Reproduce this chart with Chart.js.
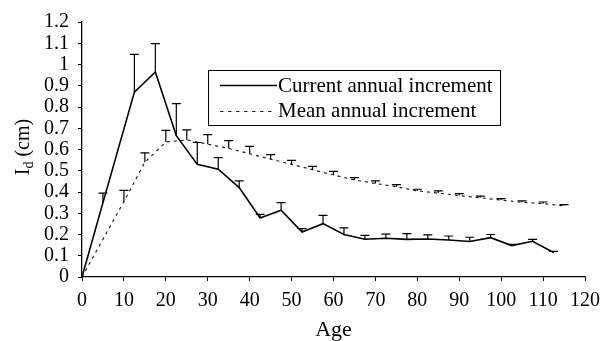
<!DOCTYPE html>
<html>
<head>
<meta charset="utf-8">
<script src="https://cdn.jsdelivr.net/npm/chart.js@4/dist/chart.umd.min.js"></script>
<style>
  html, body { margin: 0; padding: 0; background: #fff; }
  #wrap { width: 608px; height: 341px; position: relative; }
</style>
</head>
<body>
<div id="wrap"><canvas id="c" width="608" height="341"></canvas></div>
<script>
// Diameter increment by age
const currentAges   = [0, 5, 12.5, 17.5, 22.5, 27.5, 32.5, 37.5, 42.5, 47.5, 52.5, 57.5, 62.5, 67.5, 72.5, 77.5, 82.5, 87.5, 92.5, 97.5, 102.5, 107.5, 112.5];
const currentValues = [0, 0.35, 0.87, 0.965, 0.665, 0.53, 0.507, 0.421, 0.278, 0.314, 0.212, 0.251, 0.2, 0.178, 0.182, 0.177, 0.179, 0.174, 0.167, 0.185, 0.148, 0.168, 0.115];
const currentErrors = [0, 0.045, 0.178, 0.133, 0.151, 0.103, 0.055, 0.031, 0.017, 0.036, 0.016, 0.039, 0.031, 0.018, 0.020, 0.027, 0.019, 0.019, 0.020, 0.015, 0.006, 0.009, 0.006];

const meanAges   = [0, 10, 15, 20, 25, 30, 35, 40, 45, 50, 55, 60, 65, 70, 75, 80, 85, 90, 95, 100, 105, 110, 115];
const meanValues = [0, 0.355, 0.54, 0.635, 0.645, 0.625, 0.605, 0.58, 0.555, 0.53, 0.505, 0.48, 0.457, 0.44, 0.425, 0.405, 0.395, 0.383, 0.373, 0.362, 0.352, 0.345, 0.335];
const meanErrors = [0, 0.053, 0.044, 0.055, 0.047, 0.045, 0.037, 0.035, 0.021, 0.019, 0.016, 0.017, 0.011, 0.012, 0.010, 0.008, 0.010, 0.009, 0.008, 0.007, 0.006, 0.008, 0.006];

const seriesLabels = ['Current annual increment', 'Mean annual increment'];
const xTitle = 'Age';
const yTitleMain = 'I';
const yTitleSub = 'd';
const yTitleUnit = ' (cm)';

const FONT = '"Liberation Serif", "Times New Roman", serif';

function points(xs, ys) { return xs.map((x, i) => ({ x: x, y: ys[i] })); }

// upper error bars (stem + cap) for each series
const errorBars = {
  id: 'errorBars',
  afterDatasetsDraw(chart) {
    const ctx = chart.ctx;
    const xs = chart.scales.x, ys = chart.scales.y;
    const sets = [[currentAges, currentValues, currentErrors], [meanAges, meanValues, meanErrors]];
    ctx.save();
    ctx.strokeStyle = '#000';
    ctx.lineWidth = 1.2;
    ctx.setLineDash([]);
    sets.forEach(([ages, vals, errs]) => {
      ages.forEach((a, i) => {
        if (!errs[i]) return;
        const px = xs.getPixelForValue(a);
        const y0 = ys.getPixelForValue(vals[i]);
        const y1 = ys.getPixelForValue(vals[i] + errs[i]);
        ctx.beginPath();
        ctx.moveTo(px, y0);
        ctx.lineTo(px, y1);
        ctx.moveTo(px - 4.5, y1);
        ctx.lineTo(px + 4.5, y1);
        ctx.stroke();
      });
    });
    ctx.restore();
  }
};

// boxed legend inside the plot and the rotated y-axis title with subscript
const decorations = {
  id: 'decorations',
  afterDraw(chart) {
    const ctx = chart.ctx;
    const ds = chart.data.datasets;
    ctx.save();
    // legend box
    ctx.strokeStyle = '#000';
    ctx.lineWidth = 1;
    ctx.strokeRect(208.5, 70.5, 292, 55);
    ctx.font = '21px ' + FONT;
    ctx.fillStyle = '#000';
    ctx.textBaseline = 'alphabetic';
    ctx.textAlign = 'left';
    // row 1
    ctx.lineWidth = 1.6;
    ctx.beginPath();
    ctx.moveTo(220, 85.5);
    ctx.lineTo(277, 85.5);
    ctx.stroke();
    ctx.fillText(ds[0].label, 278, 92);
    // row 2
    ctx.lineWidth = 1.2;
    ctx.strokeStyle = '#222';
    ctx.setLineDash([3.5, 4.5]);
    ctx.beginPath();
    ctx.moveTo(220, 111.5);
    ctx.lineTo(272, 111.5);
    ctx.stroke();
    ctx.setLineDash([]);
    ctx.fillText(ds[1].label, 278, 117);

    // y-axis title
    ctx.translate(29, 147);
    ctx.rotate(-Math.PI / 2);
    ctx.font = '20px ' + FONT;
    const wI = ctx.measureText(yTitleMain).width;
    ctx.font = '14px ' + FONT;
    const wd = ctx.measureText(yTitleSub).width;
    ctx.font = '20px ' + FONT;
    const wU = ctx.measureText(yTitleUnit).width;
    let x = -(wI + wd + wU) / 2;
    ctx.fillText(yTitleMain, x, 0);
    x += wI;
    ctx.font = '14px ' + FONT;
    ctx.fillText(yTitleSub, x, 4);
    x += wd;
    ctx.font = '20px ' + FONT;
    ctx.fillText(yTitleUnit, x, 0);
    ctx.restore();
  }
};

new Chart(document.getElementById('c'), {
  type: 'line',
  data: {
    datasets: [
      {
        label: seriesLabels[0],
        data: points(currentAges, currentValues),
        borderColor: '#000',
        borderWidth: 1.6,
        pointRadius: 0,
        tension: 0,
        fill: false
      },
      {
        label: seriesLabels[1],
        data: points(meanAges, meanValues),
        borderColor: '#222',
        borderWidth: 1.2,
        borderDash: [3, 4],
        pointRadius: 0,
        tension: 0,
        fill: false
      }
    ]
  },
  options: {
    responsive: false,
    animation: false,
    devicePixelRatio: 1,
    layout: { padding: { left: 0, right: 19, top: 22, bottom: 0 } },
    plugins: {
      legend: { display: false },
      tooltip: { enabled: false },
      title: { display: false }
    },
    scales: {
      x: {
        type: 'linear',
        min: 0,
        max: 120,
        afterFit(s) { s.height = 64; },
        border: { display: true, color: '#000', width: 1.3 },
        grid: { display: true, drawOnChartArea: false, drawTicks: true, tickLength: 4, color: '#000', tickWidth: 1 },
        ticks: {
          stepSize: 10,
          autoSkip: false,
          color: '#000',
          padding: 8,
          maxRotation: 0,
          font: { family: FONT, size: 20 }
        },
        title: {
          display: true,
          text: xTitle,
          color: '#000',
          font: { family: FONT, size: 22, lineHeight: 1 },
          padding: { top: 2, bottom: 0 }
        }
      },
      y: {
        min: 0,
        max: 1.2,
        afterFit(s) { s.width = 82; },
        border: { display: true, color: '#000', width: 1.3 },
        grid: { display: true, drawOnChartArea: false, drawTicks: true, tickLength: 4, color: '#000', tickWidth: 1 },
        ticks: {
          stepSize: 0.1,
          autoSkip: false,
          color: '#000',
          padding: 9,
          font: { family: FONT, size: 20 },
          callback: (v) => String(Number(v.toFixed(1)))
        }
      }
    }
  },
  plugins: [errorBars, decorations]
});
</script>
</body>
</html>
